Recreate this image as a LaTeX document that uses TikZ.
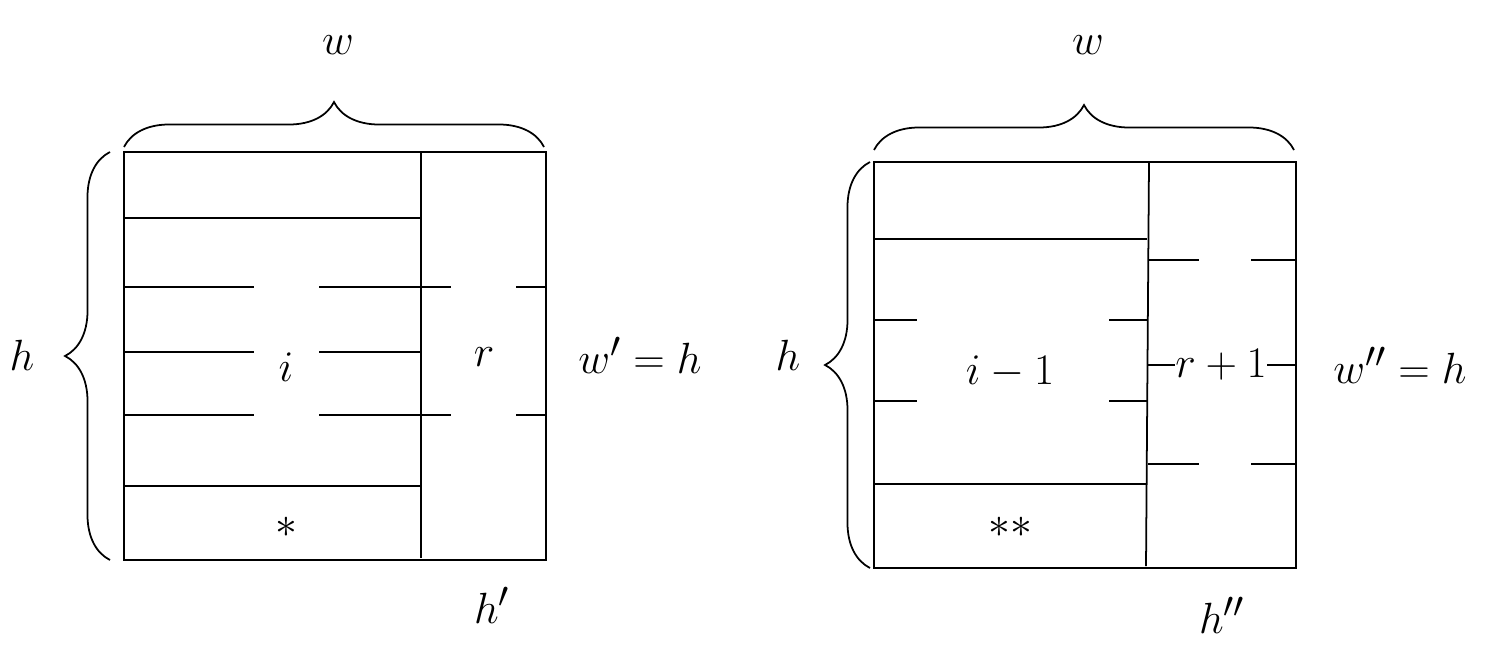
\documentclass[tikz,border=0pt]{standalone}
\usepackage{amsmath}
\usetikzlibrary{decorations.pathreplacing}
\tikzset{
  outer/.style={line width=1.6pt},
  inner/.style={line width=1pt},
  lbl/.style={font=\fontsize{31}{36}\selectfont},
  bracelbl/.style={decorate,decoration={brace,amplitude=0.9cm},line width=1pt}
}
\begin{document}
\begin{tikzpicture}[x=0.02cm,y=-0.02cm]
    \useasboundingbox (0,0) rectangle (1500,652);

    % Left box
    \draw[outer] (124,152) rectangle (546,560);
    \draw[inner] (421,152) -- (421,558);
    \draw[inner] (124,218) -- (421,218);
    \draw[inner] (124,486) -- (421,486);
    \foreach \y in {287,352,415} {
      \draw[inner] (124,\y) -- (254,\y);
      \draw[inner] (319,\y) -- (421,\y);
    }
    \foreach \y in {287,415} {
      \draw[inner] (421,\y) -- (451,\y);
      \draw[inner] (516,\y) -- (546,\y);
    }

    % Labels: left box
    \node[lbl] (li) at (286,367) {$i$};
    \node[lbl] (lr) at (484,357) {$r$};
    \node[lbl] (ls) at (286,527) {$*$};
    \node[lbl] (lw) at (338,45) {$w$};
    \node[lbl] (lh) at (22,355) {$h$};
    \node[lbl] (lwh) at (640,355) {$w'=h$};
    \node[lbl] (lhp) at (492,605) {$h'$};

    % Braces: left box
    \draw[bracelbl] (124,147) -- (544,147);
    \draw[bracelbl] (110,560) -- (110,152);

    % Right box
    \draw[outer] (874,162) rectangle (1296,568);
    \draw[inner] (1149,162) -- (1146,566);
    \draw[inner] (874,239) -- (1147,239);
    \draw[inner] (874,484) -- (1147,484);
    \foreach \y in {320,401} {
      \draw[inner] (874,\y) -- (917,\y);
      \draw[inner] (1109,\y) -- (1147,\y);
    }
    \foreach \y in {260,464} {
      \draw[inner] (1148,\y) -- (1199,\y);
      \draw[inner] (1251,\y) -- (1296,\y);
    }
    \draw[inner] (1148,365) -- (1296,365);

    % Labels: right box
    \node[lbl] (ri) at (1010,372) {$i-1$};
    \node[lbl,fill=white,inner xsep=0pt] (rr) at (1221,365) {$r+1$};
    \node[lbl] (rs) at (1010,527) {$**$};
    \node[lbl] (rw) at (1088,45) {$w$};
    \node[lbl] (rh) at (788,355) {$h$};
    \node[lbl] (rwh) at (1400,365) {$w''=h$};
    \node[lbl] (rhp) at (1222,615) {$h''$};

    % Braces: right box
    \draw[bracelbl] (874,150) -- (1294,150);
    \draw[bracelbl] (870,568) -- (870,162);
\end{tikzpicture}
\end{document}
